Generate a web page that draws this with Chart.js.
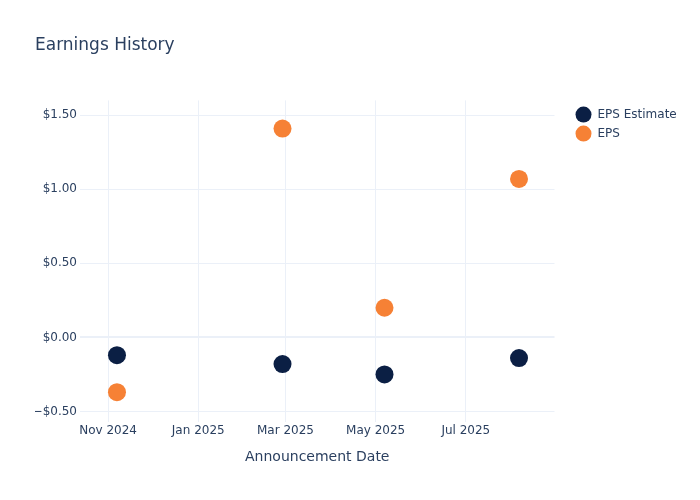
<!DOCTYPE html>
<html>
<head>
<meta charset="utf-8">
<script src="https://cdn.jsdelivr.net/npm/chart.js@4.4.1/dist/chart.umd.min.js"></script>
<style>
  body { margin: 0; background: #fff; }
  #wrap { width: 700px; height: 500px; position: relative; }
</style>
</head>
<body>
<div id="wrap"><canvas id="chart"></canvas></div>
<script>
// announcement dates and EPS values
const announceDates = ['2024-11-07', '2025-02-27', '2025-05-07', '2025-08-06'];
const epsEstimate = [-0.12, -0.18, -0.25, -0.14];
const epsActual = [-0.37, 1.41, 0.20, 1.07];

const xTickDates = ['2024-11-01', '2025-01-01', '2025-03-01', '2025-05-01', '2025-07-01'];
const xTickLabels = ['Nov 2024', 'Jan 2025', 'Mar 2025', 'May 2025', 'Jul 2025'];
const yTickValues = [-0.5, 0, 0.5, 1, 1.5];

const xRange = ['2024-10-13', '2025-08-30'];
const yRange = [-0.57, 1.6];

const textColor = '#2a3f5f';
const gridColor = '#ebf0f8';
const font = 'DejaVu Sans';

const toPoints = (vals) => vals.map((v, i) => ({ x: Date.parse(announceDates[i]), y: v }));
const xTicks = xTickDates.map(d => Date.parse(d));

const ctx = document.getElementById('chart').getContext('2d');
new Chart(ctx, {
  type: 'scatter',
  data: {
    datasets: [
      { label: 'EPS Estimate', data: toPoints(epsEstimate), backgroundColor: '#0b1f44', borderWidth: 0, pointRadius: 9, pointHoverRadius: 9 },
      { label: 'EPS', data: toPoints(epsActual), backgroundColor: '#f68135', borderWidth: 0, pointRadius: 9, pointHoverRadius: 9 }
    ]
  },
  options: {
    responsive: true,
    maintainAspectRatio: false,
    animation: false,
    layout: { padding: { left: 35, right: 20, top: 0, bottom: 30 } },
    plugins: {
      title: {
        display: true,
        text: 'Earnings History',
        align: 'start',
        color: textColor,
        font: { family: font, size: 17, weight: 'normal' },
        padding: { top: 35, bottom: 45 }
      },
      legend: {
        position: 'right',
        align: 'start',
        fullSize: false,
        // empty title only used as a small top offset for the items
        title: { display: true, text: '', font: { size: 1 }, padding: { top: 0, bottom: 2 } },
        labels: {
          color: textColor,
          font: { family: font, size: 12 },
          boxWidth: 16,
          boxHeight: 16,
          useBorderRadius: true,
          borderRadius: 8,
          padding: 3
        }
      },
      tooltip: { enabled: false }
    },
    scales: {
      x: {
        type: 'linear',
        min: Date.parse(xRange[0]),
        max: Date.parse(xRange[1]),
        afterBuildTicks: (s) => { s.ticks = xTicks.map(v => ({ value: v })); },
        ticks: {
          color: textColor,
          font: { family: font, size: 12 },
          padding: 2,
          maxRotation: 0,
          callback: (v, i) => xTickLabels[i]
        },
        grid: { color: gridColor, drawTicks: false },
        border: { display: false },
        title: {
          display: true,
          text: 'Announcement Date',
          color: textColor,
          font: { family: font, size: 14 },
          padding: { top: 9, bottom: 4 }
        }
      },
      y: {
        min: yRange[0],
        max: yRange[1],
        afterBuildTicks: (s) => { s.ticks = yTickValues.map(v => ({ value: v })); },
        afterFit: (s) => { s.width = 45; },
        ticks: {
          color: textColor,
          font: { family: font, size: 12 },
          padding: 3,
          callback: (v) => (v < 0 ? '\u2212$' : '$') + Math.abs(v).toFixed(2)
        },
        grid: {
          drawTicks: false,
          color: gridColor,
          lineWidth: (c) => (c.tick && c.tick.value === 0 ? 2 : 1)
        },
        border: { display: false }
      },
      // empty spacer between plot area and legend
      gap: {
        type: 'linear',
        position: 'right',
        display: true,
        afterFit: (s) => { s.width = 18; },
        ticks: { display: false },
        grid: { display: false },
        border: { display: false }
      }
    }
  }
});
</script>
</body>
</html>
